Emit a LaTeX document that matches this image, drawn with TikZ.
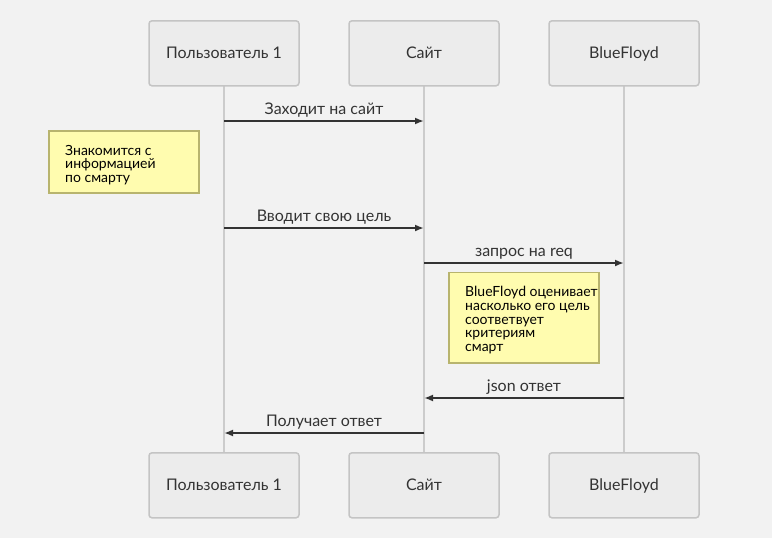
\documentclass[tikz,border=0pt]{standalone}
\usepackage{fontspec}
\setmainfont{Lato}
\usetikzlibrary{arrows.meta}
\definecolor{bg}{HTML}{F2F2F2}
\definecolor{boxfill}{HTML}{ECECEC}
\definecolor{boxline}{HTML}{C4C4C4}
\definecolor{lifeline}{HTML}{CCCCCC}
\definecolor{txt}{HTML}{333333}
\definecolor{notefill}{HTML}{FFFCAF}
\definecolor{noteline}{HTML}{B8B46E}
\tikzset{
  actor/.style={draw=boxline, fill=boxfill, line width=1.5pt, rounded corners=3pt,
    minimum width=150pt, minimum height=65pt, inner sep=0pt, text=txt,
    text height=12.5pt, text depth=1.5pt, font=\fontsize{16}{19}\selectfont},
  life/.style={draw=lifeline, line width=2pt},
  msg/.style={draw=txt, line width=1.8pt, -{Latex[length=9pt,width=7pt]}},
  lbl/.style={text=txt, font=\fontsize{16}{19}\selectfont, inner sep=0pt, anchor=base},
  note/.style={draw=noteline, fill=notefill, line width=1.5pt, inner sep=0pt},
  notetext/.style={text=black, font=\fontsize{14}{13.75}\selectfont, align=left, anchor=base west, inner sep=0pt}
}
\begin{document}
\begin{tikzpicture}[x=1pt,y=-1pt]
\fill[bg] (0,0) rectangle (772,538);
\useasboundingbox (0,0) rectangle (772,538);
% lifelines
\coordinate (l1t) at (224,86); \coordinate (l1b) at (224,453);
\coordinate (l2t) at (424,86); \coordinate (l2b) at (424,453);
\coordinate (l3t) at (624,86); \coordinate (l3b) at (624,453);
\draw[life] (l1t) -- (l1b);
\draw[life] (l2t) -- (l2b);
\draw[life] (l3t) -- (l3b);
% actors
\node[actor] (a1) at (224,53.3) {Пользователь 1};
\node[actor] (a2) at (424,53.3) {Сайт};
\node[actor] (a3) at (624,53.3) {BlueFloyd};
\node[actor] (b1) at (224,485.3) {Пользователь 1};
\node[actor] (b2) at (424,485.3) {Сайт};
\node[actor] (b3) at (624,485.3) {BlueFloyd};
% messages
\coordinate (m1s) at (224,121); \coordinate (m1e) at (424,121);
\draw[msg] (m1s) -- (m1e);
\node[lbl] (t1) at (324,114) {Заходит на сайт};
\coordinate (m2s) at (224,228); \coordinate (m2e) at (424,228);
\draw[msg] (m2s) -- (m2e);
\node[lbl] (t2) at (324,221) {Вводит свою цель};
\coordinate (m3s) at (424,263); \coordinate (m3e) at (624,263);
\draw[msg] (m3s) -- (m3e);
\node[lbl] (t3) at (524,256) {запрос на req};
\coordinate (m4s) at (624,398); \coordinate (m4e) at (424,398);
\draw[msg] (m4s) -- (m4e);
\node[lbl] (t4) at (524,391) {json ответ};
\coordinate (m5s) at (424,433); \coordinate (m5e) at (224,433);
\draw[msg] (m5s) -- (m5e);
\node[lbl] (t5) at (324,426) {Получает ответ};
% notes
\draw[note] (49,131) rectangle (199,193);
\node[notetext] (n1) at (65,182.5) {Знакомится с\\информацией\\по смарту};
\draw[note] (449,272.7) rectangle (599,363);
\node[notetext] (n2) at (465,351.7) {BlueFloyd оценивает\\насколько его цель\\соответвует\\критериям\\смарт};
\end{tikzpicture}
\end{document}
